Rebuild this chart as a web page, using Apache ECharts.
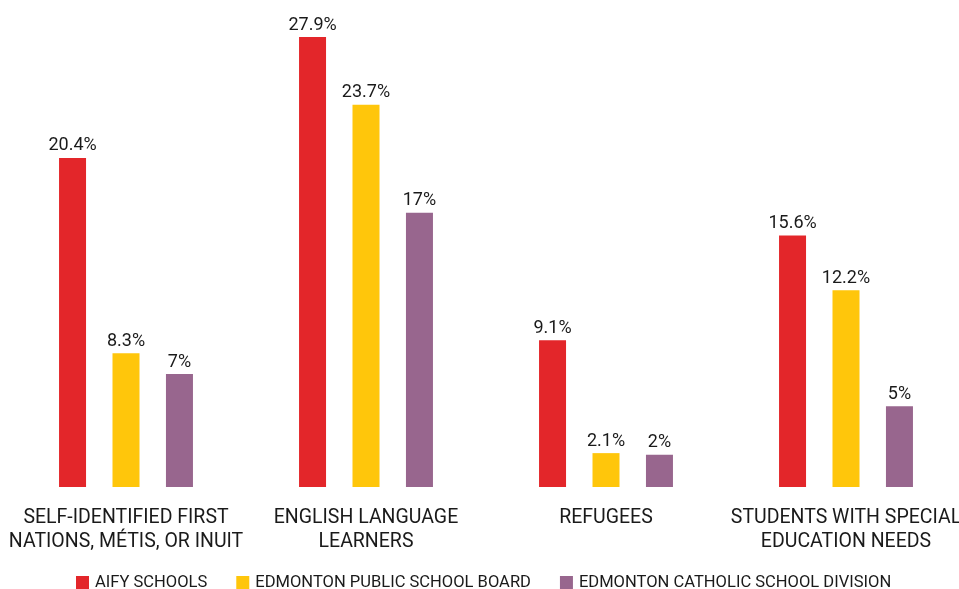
<!DOCTYPE html>
<html><head><meta charset="utf-8">
<script src="https://cdn.jsdelivr.net/npm/echarts@6/dist/echarts.min.js"></script>
<style>html,body{margin:0;padding:0;background:#fff}#c{width:959px;height:589px}</style>
</head><body><div id="c"></div>
<script>
const categories = ['SELF-IDENTIFIED FIRST\nNATIONS, MÉTIS, OR INUIT', 'ENGLISH LANGUAGE\nLEARNERS', 'REFUGEES', 'STUDENTS WITH SPECIAL\nEDUCATION NEEDS'];
const seriesNames = ['AIFY SCHOOLS', 'EDMONTON PUBLIC SCHOOL BOARD', 'EDMONTON CATHOLIC SCHOOL DIVISION'];
const aify = [20.4, 27.9, 9.1, 15.6];
const publicBoard = [8.3, 23.7, 2.1, 12.2];
const catholic = [7, 17, 2, 5];
const colors = ['#E3262A', '#FFC60B', '#98668E'];
const FONT = 'Roboto';
const chart = echarts.init(document.getElementById('c'));
const mk = (name, data, i) => ({
  name, type: 'bar', data, barWidth: 27, barGap: '98%',
  itemStyle: { color: colors[i] },
  label: { show: true, position: 'top', distance: 3, formatter: p => p.value + '%', color: '#1a1a1a', fontFamily: FONT, fontSize: 18 }
});
chart.setOption({
  animation: false,
  grid: { left: 6, right: -7, top: 37, bottom: 102, outerBoundsMode: 'none', containLabel: false },
  legend: {
    top: 574, left: 76, padding: 0, itemWidth: 13, itemHeight: 13, itemGap: 29, icon: 'rect',
    textStyle: { fontFamily: FONT, fontSize: 16.55, color: '#1a1a1a', padding: [0, 0, 0, 1] },
    data: seriesNames
  },
  xAxis: {
    type: 'category', data: categories,
    axisLine: { show: false }, axisTick: { show: false },
    axisLabel: { margin: 19, fontFamily: FONT, fontSize: 19.5, lineHeight: 24, color: '#1a1a1a', interval: 0 }
  },
  yAxis: { type: 'value', min: 0, max: 27.9, show: false, splitLine: { show: false } },
  series: [mk(seriesNames[0], aify, 0), mk(seriesNames[1], publicBoard, 1), mk(seriesNames[2], catholic, 2)]
});
</script></body></html>
